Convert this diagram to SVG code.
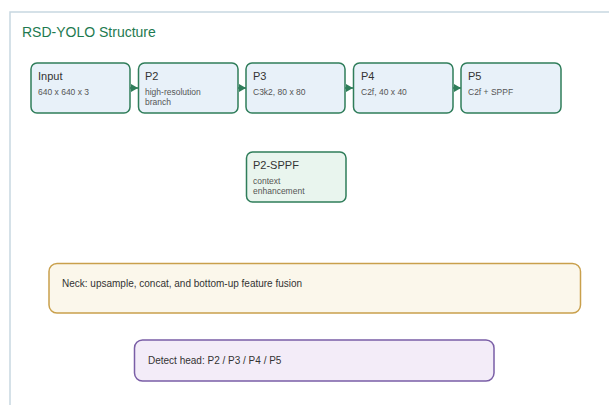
<svg xmlns="http://www.w3.org/2000/svg" width="609" height="405" viewBox="0 0 609 405">
<style>
.t{font-family:"Liberation Sans",Arial,sans-serif}
.node rect{fill:#e8f1f9;stroke:#2f7d5a;stroke-width:1.5}
.green rect{fill:#e9f5ee}
.nt{font-size:11px;fill:#333}
.ns{font-size:8.5px;fill:#555}
.conn line{stroke:#2f7d5a;stroke-width:1.5}
</style>
<defs>
<marker id="ah" viewBox="0 0 10 10" refX="10" refY="5" markerWidth="7" markerHeight="8" markerUnits="userSpaceOnUse" orient="auto" preserveAspectRatio="none">
<path d="M0,0 L10,5 L0,10 z" fill="#2f7d5a"/>
</marker>
</defs>
<rect x="0" y="0" width="609" height="405" fill="#ffffff"/>
<rect x="10" y="12" width="610" height="410" fill="#ffffff" stroke="#c8d7e1" stroke-width="1.5"/>
<text class="t" x="22" y="37" font-size="14" fill="#1e7a50">RSD-YOLO Structure</text>
<g class="conn">
<line x1="130" y1="88" x2="138" y2="88" marker-end="url(#ah)"/>
<line x1="238" y1="88" x2="246" y2="88" marker-end="url(#ah)"/>
<line x1="345" y1="88" x2="353" y2="88" marker-end="url(#ah)"/>
<line x1="453" y1="88" x2="461" y2="88" marker-end="url(#ah)"/>
</g>
<g id="input" class="node">
<rect x="31" y="63" width="99" height="50" rx="6"/>
<text class="t nt" x="38" y="80">Input</text>
<text class="t ns" x="38" y="95">640 x 640 x 3</text>
</g>
<g id="p2" class="node">
<rect x="138.5" y="63" width="99.5" height="50" rx="6"/>
<text class="t nt" x="145" y="80">P2</text>
<text class="t ns" x="145" y="95">high-resolution</text>
<text class="t ns" x="145" y="105">branch</text>
</g>
<g id="p3" class="node">
<rect x="246" y="63" width="99" height="50" rx="6"/>
<text class="t nt" x="253" y="80">P3</text>
<text class="t ns" x="253" y="95">C3k2, 80 x 80</text>
</g>
<g id="p4" class="node">
<rect x="353.5" y="63" width="99.5" height="50" rx="6"/>
<text class="t nt" x="361" y="80">P4</text>
<text class="t ns" x="361" y="95">C2f, 40 x 40</text>
</g>
<g id="p5" class="node">
<rect x="461" y="63" width="100" height="50" rx="6"/>
<text class="t nt" x="468" y="80">P5</text>
<text class="t ns" x="468" y="95">C2f + SPPF</text>
</g>
<g id="p2sppf" class="node green">
<rect x="246.5" y="152" width="99.5" height="50" rx="6"/>
<text class="t nt" x="253" y="169">P2-SPPF</text>
<text class="t ns" x="253" y="184">context</text>
<text class="t ns" x="253" y="194">enhancement</text>
</g>
<g id="neck">
<rect x="49" y="263.5" width="531.5" height="49.5" rx="8" fill="#fbf7eb" stroke="#c9a04c" stroke-width="1.5"/>
<text class="t" x="62" y="287" font-size="10" fill="#333">Neck: upsample, concat, and bottom-up feature fusion</text>
</g>
<g id="head">
<rect x="134.5" y="340" width="359.5" height="41" rx="8" fill="#f3ecf8" stroke="#7a5ea6" stroke-width="1.5"/>
<text class="t" x="148" y="364" font-size="10" fill="#333">Detect head: P2 / P3 / P4 / P5</text>
</g>
</svg>
